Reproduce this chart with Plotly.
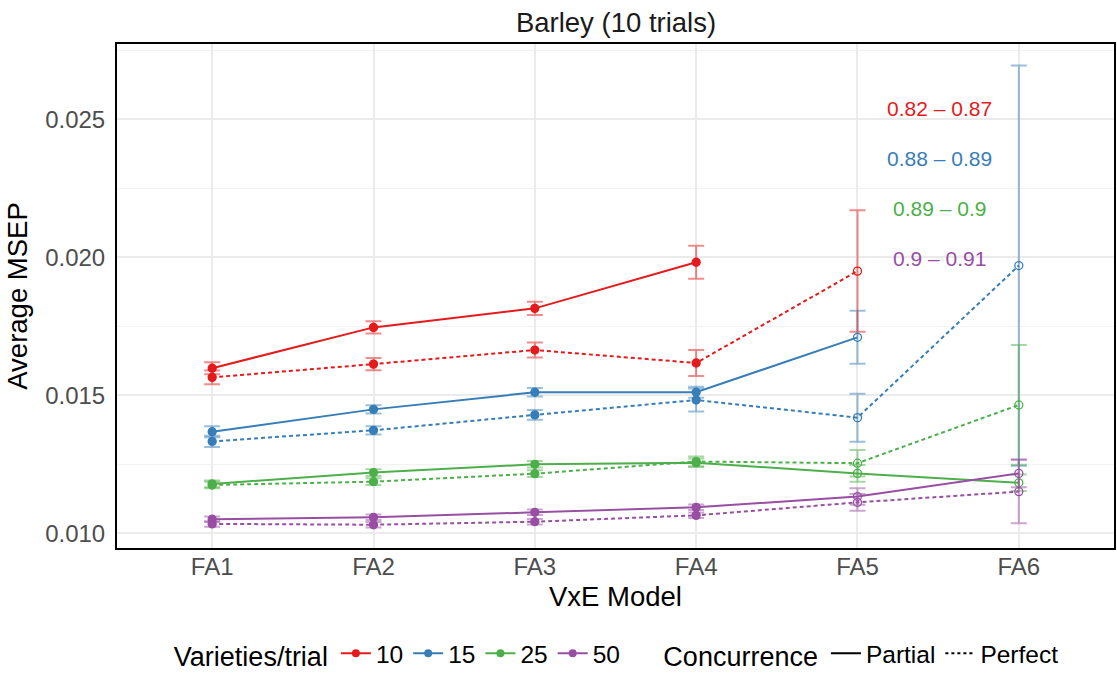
import plotly.graph_objects as go

models = ["FA1", "FA2", "FA3", "FA4", "FA5", "FA6"]
varieties = ["10", "15", "25", "50"]
colors = {"10": "#E41A1C", "15": "#377EB8", "25": "#4DAF4A", "50": "#984EA3"}
err_colors = {"10": "rgba(228,26,28,0.5)", "15": "rgba(55,126,184,0.5)",
              "25": "rgba(77,175,74,0.5)", "50": "rgba(152,78,163,0.5)"}

# Average MSEP, partial concurrence
partial_10 = [0.01598, 0.01746, 0.01815, 0.01982, None, None]
partial_15 = [0.01368, 0.01449, 0.01511, 0.01511, 0.01710, None]
partial_25 = [0.01179, 0.01220, 0.01250, 0.01256, 0.01217, 0.01183]
partial_50 = [0.01051, 0.01058, 0.01076, 0.01094, 0.01133, 0.01217]
# Average MSEP, perfect concurrence
perfect_10 = [0.01565, 0.01613, 0.01664, 0.01617, 0.01950, None]
perfect_15 = [0.01333, 0.01373, 0.01429, 0.01483, 0.01419, 0.01970]
perfect_25 = [0.01175, 0.01187, 0.01216, 0.01260, 0.01254, 0.01465]
perfect_50 = [0.01034, 0.01031, 0.01042, 0.01065, 0.01112, 0.01151]

# error bar half-widths
partial_10_err = [0.00022, 0.00022, 0.00024, 0.00060, None, None]
partial_15_err = [0.00020, 0.00015, 0.00015, 0.00020, 0.00096, None]
partial_25_err = [0.00012, 0.00012, 0.00012, 0.00015, 0.00030, 0.00030]
partial_50_err = [0.00010, 0.00010, 0.00010, 0.00010, 0.00030, 0.00050]
perfect_10_err = [0.00025, 0.00022, 0.00027, 0.00047, 0.00220, None]
perfect_15_err = [0.00020, 0.00015, 0.00018, 0.00042, 0.00087, 0.00725]
perfect_25_err = [0.00012, 0.00012, 0.00012, 0.00018, 0.00048, 0.00217]
perfect_50_err = [0.00010, 0.00010, 0.00010, 0.00010, 0.00030, 0.00115]

# marker fill: FA1-FA4 filled, FA5-FA6 open
marker_symbols = ["circle", "circle", "circle", "circle", "circle-open", "circle-open"]

# correlation range labels
range_labels = ["0.82 \u2013 0.87", "0.88 \u2013 0.89", "0.89 \u2013 0.9", "0.9 \u2013 0.91"]
label_y = [0.02538, 0.02357, 0.02176, 0.01995]
label_x = 4.51

series = {
    ("10", "Partial"): (partial_10, partial_10_err),
    ("15", "Partial"): (partial_15, partial_15_err),
    ("25", "Partial"): (partial_25, partial_25_err),
    ("50", "Partial"): (partial_50, partial_50_err),
    ("10", "Perfect"): (perfect_10, perfect_10_err),
    ("15", "Perfect"): (perfect_15, perfect_15_err),
    ("25", "Perfect"): (perfect_25, perfect_25_err),
    ("50", "Perfect"): (perfect_50, perfect_50_err),
}

FONT = "Liberation Sans, Arial, Helvetica, sans-serif"
DASH_PERFECT = "4px,3px"

fig = go.Figure()
for (v, conc), (yv, ev) in series.items():
    fig.add_trace(go.Scatter(
        x=models, y=yv, mode="lines+markers",
        line=dict(color=colors[v], width=2, dash="solid" if conc == "Partial" else DASH_PERFECT),
        marker=dict(color=colors[v], size=8, symbol=marker_symbols,
                    line=dict(color=colors[v], width=1.3)),
        error_y=dict(type="data", array=[e if e is not None else 0 for e in ev],
                     color=err_colors[v], thickness=2, width=8),
        showlegend=False, connectgaps=False, hoverinfo="x+y",
    ))

# legend entries
for v in varieties:
    fig.add_trace(go.Scatter(
        x=[None], y=[None], mode="lines+markers", name=v,
        line=dict(color=colors[v], width=2),
        marker=dict(color=colors[v], size=8),
        legend="legend", showlegend=True,
    ))
for conc in ["Partial", "Perfect"]:
    fig.add_trace(go.Scatter(
        x=[None], y=[None], mode="lines", name=conc,
        line=dict(color="black", width=2, dash="solid" if conc == "Partial" else "dot"),
        legend="legend2", showlegend=True,
    ))

for lab, ly, v in zip(range_labels, label_y, varieties):
    fig.add_annotation(x=label_x, y=ly, xref="x", yref="y", text=lab, showarrow=False,
                       font=dict(family=FONT, size=21, color=colors[v]),
                       xanchor="center", yanchor="middle")

fig.update_layout(
    width=1117, height=673,
    margin=dict(l=117, r=3, t=44, b=125, autoexpand=False),
    paper_bgcolor="white", plot_bgcolor="white",
    font=dict(family=FONT, color="black"),
    title=dict(text="Barley (10 trials)", x=0.5515, xanchor="center",
               y=1 - 22 / 673, yanchor="middle", yref="container",
               font=dict(family=FONT, size=27.5, color="#1A1A1A")),
    xaxis=dict(
        type="category", categoryorder="array", categoryarray=models,
        range=[-0.59, 5.59],
        showgrid=True, gridcolor="#EBEBEB", gridwidth=1.5,
        showline=True, linecolor="black", linewidth=2, mirror=True,
        ticks="", tickfont=dict(family=FONT, size=24, color="#4D4D4D"),
        ticklabelstandoff=-4,
        title=dict(text="VxE Model", font=dict(family=FONT, size=27.5, color="black"), standoff=8),
        zeroline=False,
    ),
    yaxis=dict(
        range=[0.009467, 0.027728],
        dtick=0.005, tick0=0, tickformat=".3f",
        showgrid=True, gridcolor="#EBEBEB", gridwidth=1.5,
        minor=dict(dtick=0.0025, showgrid=True, gridcolor="#F2F2F2", gridwidth=1),
        showline=True, linecolor="black", linewidth=2, mirror=True,
        ticks="", tickfont=dict(family=FONT, size=24, color="#4D4D4D"),
        ticklabelstandoff=5,
        title=dict(text="Average MSEP", font=dict(family=FONT, size=27.5, color="black"), standoff=10),
        zeroline=False,
    ),
    legend=dict(
        orientation="h", x=0.055, xanchor="left", y=-0.210, yanchor="middle",
        title=dict(text="Varieties/trial", font=dict(family=FONT, size=27, color="black")),
        font=dict(family=FONT, size=24.5, color="black"),
        bgcolor="rgba(0,0,0,0)", itemwidth=30, tracegroupgap=0,
    ),
    legend2=dict(
        orientation="h", x=0.546, xanchor="left", y=-0.210, yanchor="middle",
        title=dict(text="Concurrence", font=dict(family=FONT, size=27, color="black")),
        font=dict(family=FONT, size=24.5, color="black"),
        bgcolor="rgba(0,0,0,0)", itemwidth=30,
    ),
)

fig.write_html("out.html")
